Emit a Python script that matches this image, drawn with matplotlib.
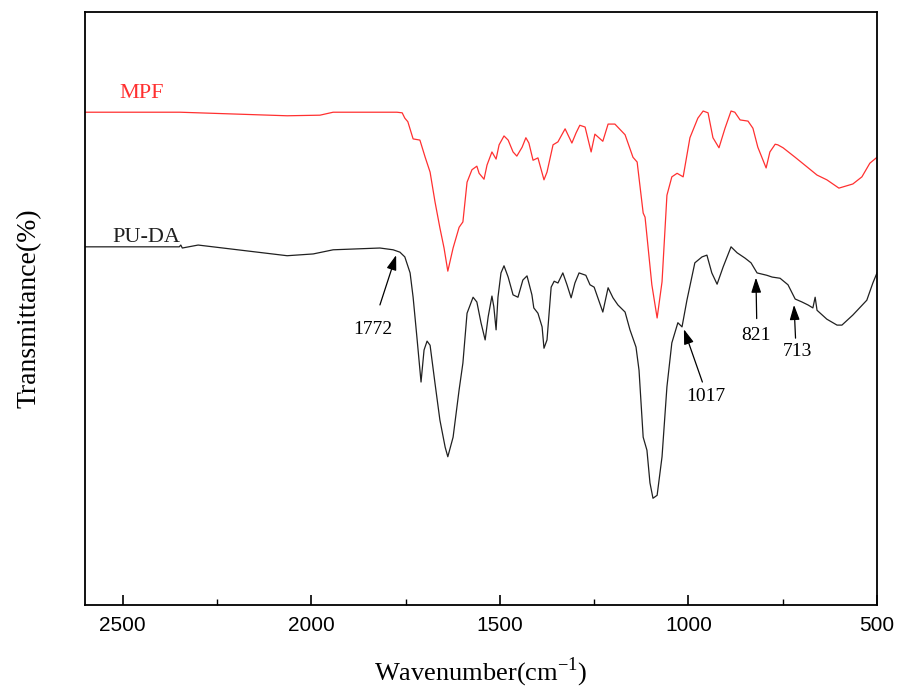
import matplotlib
matplotlib.use("Agg")
import matplotlib.pyplot as plt

# MPF spectrum (wavenumber, transmittance a.u.)
mpf_wn = [2600, 2348, 2064, 1977, 1942, 1818, 1773, 1759, 1752, 1744, 1730, 1712, 1698, 1685,
          1672, 1659, 1648, 1638, 1624, 1608, 1598, 1587, 1574, 1561, 1555, 1542, 1534, 1521,
          1510, 1502, 1489, 1478, 1465, 1455, 1441, 1431, 1423, 1412, 1399, 1383, 1375, 1359,
          1346, 1327, 1309, 1298, 1288, 1274, 1258, 1248, 1227, 1213, 1195, 1168, 1147, 1136,
          1120, 1115, 1097, 1083, 1070, 1057, 1044, 1030, 1022, 1014, 996, 975, 961, 948, 935,
          919, 903, 887, 877, 863, 842, 829, 816, 794, 784, 770, 763, 749, 717, 686, 659, 633,
          601, 564, 540, 519, 500]
mpf_t = [83.1, 83.1, 82.5, 82.6, 83.1, 83.1, 83.1, 83.0, 82.1, 81.5, 78.6, 78.4, 75.5, 73.0,
         68.0, 63.6, 60.2, 56.3, 60.2, 63.7, 64.6, 71.3, 73.4, 74.0, 72.8, 71.8, 74.2, 76.4,
         75.2, 77.6, 79.1, 78.4, 76.4, 75.7, 77.2, 78.8, 77.9, 75.0, 75.4, 71.7, 73.0, 77.6,
         78.1, 80.3, 77.9, 79.6, 80.9, 80.6, 76.4, 79.4, 78.2, 81.1, 81.1, 79.3, 75.5, 74.7,
         66.1, 65.4, 54.0, 48.4, 54.5, 69.1, 72.2, 72.8, 72.5, 72.2, 78.8, 82.1, 83.3, 83.0, 78.8,
         77.1, 80.4, 83.3, 83.1, 81.8, 81.6, 80.4, 77.2, 73.7, 76.4, 77.7, 77.6, 77.1, 75.5, 73.9,
         72.5, 71.7, 70.3, 71.0, 72.2, 74.5, 75.5]

# PU-DA spectrum
puda_wn = [2600, 2350, 2346, 2342, 2300, 2064, 1995, 1942, 1818, 1783, 1765, 1752, 1738, 1730,
           1720, 1709, 1701, 1693, 1685, 1672, 1659, 1645, 1638, 1624, 1608, 1598, 1587, 1571,
           1561, 1550, 1539, 1531, 1521, 1516, 1510, 1505, 1497, 1489, 1478, 1465, 1452, 1439,
           1428, 1415, 1410, 1399, 1388, 1383, 1375, 1364, 1356, 1346, 1333, 1322, 1311, 1301,
           1290, 1272, 1261, 1250, 1227, 1213, 1200, 1187, 1168, 1155, 1139, 1131, 1120, 1110,
           1102, 1094, 1083, 1070, 1057, 1044, 1028, 1017, 1004, 983, 964, 951, 938, 924, 908,
           887, 871, 850, 834, 818, 792, 778, 757, 736, 717, 699, 683, 670, 664, 659, 633, 606,
           593, 564, 527, 511, 500]
puda_t = [60.4, 60.4, 60.7, 60.2, 60.7, 58.9, 59.2, 59.9, 60.2, 59.9, 59.5, 58.7, 56.0, 51.9,
          45.2, 37.6, 43.0, 44.5, 43.8, 37.4, 31.2, 26.6, 25.0, 28.3, 36.3, 40.8, 49.2, 51.9,
          51.1, 47.6, 44.7, 48.6, 52.1, 50.3, 46.4, 51.9, 56.0, 57.2, 55.3, 52.3, 51.9, 54.8,
          55.5, 52.3, 50.1, 49.2, 46.9, 43.3, 44.7, 53.6, 54.6, 54.3, 56.0, 54.0, 51.8, 54.3,
          56.0, 55.6, 54.0, 53.6, 49.4, 53.5, 51.8, 50.6, 49.4, 46.4, 43.5, 39.6, 28.3, 26.1,
          20.6, 18.0, 18.5, 25.0, 36.8, 44.2, 47.6, 46.9, 51.4, 57.7, 58.7, 59.0, 56.0, 54.1, 57.0,
          60.4, 59.4, 58.5, 57.7, 56.0, 55.6, 55.3, 55.1, 54.0, 51.6, 51.1, 50.6, 50.1, 51.9, 49.7,
          48.2, 47.2, 47.2, 48.9, 51.4, 54.3, 56.0]

# Peak annotations: label, arrow head (wn, T), label position (wn, T), arrow tail (wn, T)
peak_labels = ["1772", "1017", "821", "713"]
peak_xy = [(1775, 59.0), (1012, 46.5), (821, 55.2), (720, 50.6)]
peak_text = [(1836, 46.4), (954, 35.2), (821, 45.4), (710, 42.8)]
peak_tail = [(1818, 50.6), (963, 37.6), (819, 48.3), (716, 45.0)]

series_labels = ["MPF", "PU-DA"]
series_label_pos = [(2450, 86.2), (2438, 62.0)]

tick_vals = [2500, 2000, 1500, 1000, 500]

serif = ["Liberation Serif", "DejaVu Serif"]
sans = ["Liberation Sans", "DejaVu Sans"]

fig = plt.figure(figsize=(8.98, 6.93), dpi=100)
ax = fig.add_axes([85 / 898, 88 / 693, 792 / 898, 593 / 693])

ax.plot(mpf_wn, mpf_t, color="#ff3030", lw=0.9)
ax.plot(puda_wn, puda_t, color="#202020", lw=0.9)

ax.set_xlim(2600, 500)
ax.set_ylim(0, 100)
ax.set_xticks(tick_vals)
ax.set_xticks([2250, 1750, 1250, 750], minor=True)
ax.set_yticks([])
ax.tick_params(axis="x", which="major", direction="in", length=7, width=1.2,
               labelsize=15, pad=8)
ax.tick_params(axis="x", which="minor", direction="in", length=4, width=1.0)
for lab in ax.get_xticklabels():
    lab.set_family(sans)
for sp in ax.spines.values():
    sp.set_linewidth(1.3)

ax.set_xlabel("Wavenumber(cm$^{\\mathregular{-1}}$)", fontsize=19, family=serif, labelpad=15)
ax.set_ylabel("Transmittance(%)", fontsize=20, family=serif, labelpad=31)

colors = ["#ff3030", "#202020"]
for lab, pos, c in zip(series_labels, series_label_pos, colors):
    ax.text(pos[0], pos[1], lab, color=c, fontsize=16, family=serif, ha="center", va="center")

for lab, xy, txt, tail in zip(peak_labels, peak_xy, peak_text, peak_tail):
    ax.annotate("", xy=xy, xytext=tail,
                arrowprops=dict(arrowstyle="-|>,head_length=0.9,head_width=0.3",
                                color="black", lw=0.9, shrinkA=0, shrinkB=0))
    ax.text(txt[0], txt[1], lab, fontsize=14, family=serif, ha="center", va="center")

fig.savefig("out.png", dpi=100)
